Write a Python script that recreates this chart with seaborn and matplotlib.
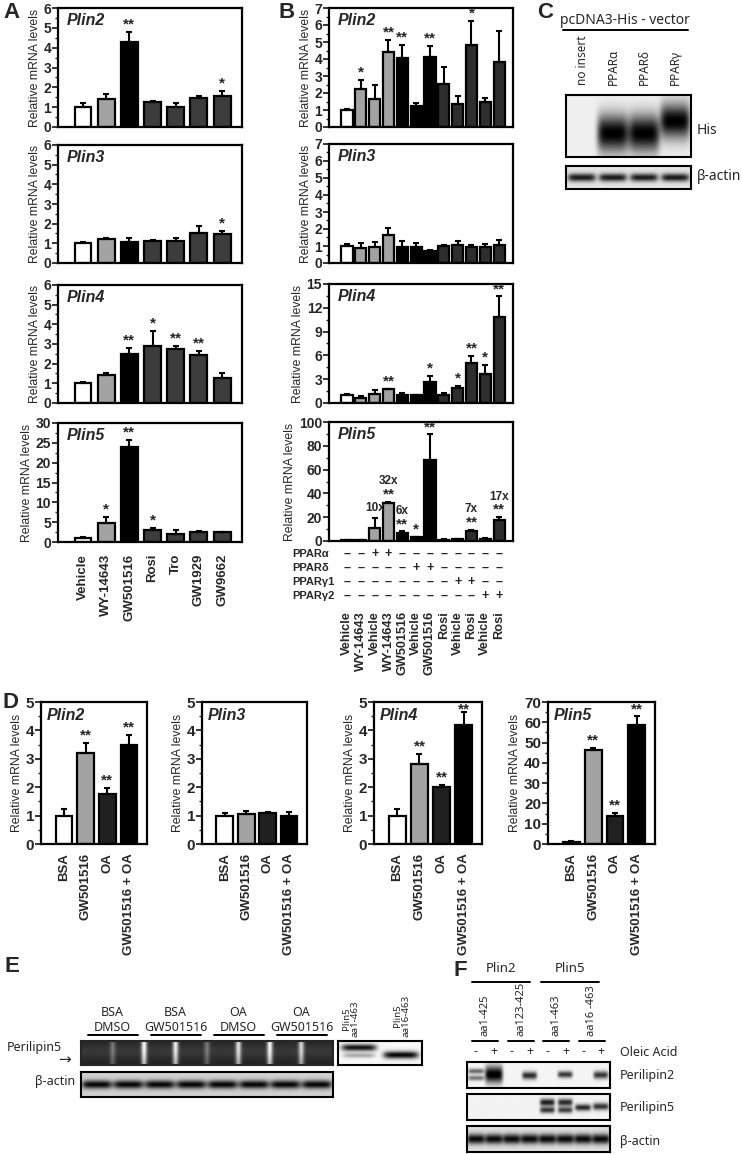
"""Perilipin mRNA levels after PPAR agonist treatment: bar charts and western blots"""

import matplotlib.pyplot as plt
import seaborn as sns
import numpy as np
from matplotlib.ticker import MultipleLocator, AutoMinorLocator
from matplotlib.transforms import blended_transform_factory

# ---------------- data ----------------
# panel A
a_labels = ['Vehicle', 'WY-14643', 'GW501516', 'Rosi', 'Tro', 'GW1929', 'GW9662']
a_plin2 = [1.0, 1.4, 4.3, 1.25, 1.0, 1.45, 1.55]
a_plin2_err = [0.2, 0.25, 0.5, 0.08, 0.2, 0.12, 0.25]
a_plin2_sig = ['', '', '**', '', '', '', '*']
a_plin3 = [1.0, 1.22, 1.05, 1.13, 1.1, 1.52, 1.48]
a_plin3_err = [0.07, 0.06, 0.2, 0.05, 0.15, 0.35, 0.13]
a_plin3_sig = ['', '', '', '', '', '', '*']
a_plin4 = [1.02, 1.42, 2.48, 2.9, 2.75, 2.42, 1.27]
a_plin4_err = [0.06, 0.1, 0.3, 0.75, 0.15, 0.22, 0.27]
a_plin4_sig = ['', '', '**', '*', '**', '**', '']
a_plin5 = [1.0, 4.8, 24.0, 3.0, 2.1, 2.5, 2.4]
a_plin5_err = [0.15, 1.4, 1.8, 0.6, 0.8, 0.3, 0.1]
a_plin5_sig = ['', '*', '**', '*', '', '', '']

# panel B
b_labels = ['Vehicle', 'WY-14643', 'Vehicle', 'WY-14643', 'GW501516', 'Vehicle',
            'GW501516', 'Rosi', 'Vehicle', 'Rosi', 'Vehicle', 'Rosi']
b_plin2 = [1.0, 2.25, 1.65, 4.4, 4.05, 1.25, 4.1, 2.55, 1.35, 4.85, 1.5, 3.8]
b_plin2_err = [0.08, 0.5, 0.85, 0.7, 0.8, 0.18, 0.65, 1.0, 0.45, 1.4, 0.22, 1.85]
b_plin2_sig = ['', '*', '', '**', '**', '', '**', '', '', '*', '', '']
b_plin3 = [1.0, 0.9, 0.95, 1.65, 0.92, 0.97, 0.68, 0.98, 1.08, 0.95, 0.95, 1.07]
b_plin3_err = [0.12, 0.25, 0.3, 0.4, 0.35, 0.18, 0.07, 0.05, 0.2, 0.12, 0.17, 0.3]
b_plin3_sig = [''] * 12
b_plin4 = [1.05, 0.65, 1.15, 1.75, 1.0, 0.95, 2.7, 0.95, 1.95, 5.1, 3.65, 10.85]
b_plin4_err = [0.1, 0.2, 0.45, 0.05, 0.2, 0.0, 0.75, 0.25, 0.25, 0.8, 1.2, 2.7]
b_plin4_sig = ['', '', '', '**', '', '', '*', '', '*', '**', '*', '**']
b_plin5 = [1.0, 1.0, 11.0, 32.0, 6.5, 3.0, 68.0, 1.2, 1.5, 8.5, 1.8, 17.5]
b_plin5_err = [0.2, 0.2, 8.5, 0.8, 1.5, 0.3, 22.0, 0.3, 0.4, 0.8, 0.5, 2.5]
b_plin5_sig = ['', '', '', '**', '**', '*', '**', '', '', '**', '', '**']
b_plin5_fold = ['', '', '10x', '32x', '6x', '', '', '', '', '7x', '', '17x']
ppar_rows = ['PPARα', 'PPARδ', 'PPARγ1', 'PPARγ2']
ppar_table = [
    '––++––––––––',
    '–––––++–––––',
    '––––––––++––',
    '––––––––––++',
]

# panel D
d_labels = ['BSA', 'GW501516', 'OA', 'GW501516 + OA']
d_plin2 = [1.0, 3.22, 1.75, 3.47]
d_plin2_err = [0.22, 0.35, 0.22, 0.37]
d_plin3 = [1.0, 1.05, 1.08, 0.98]
d_plin3_err = [0.08, 0.12, 0.06, 0.14]
d_plin4 = [1.0, 2.82, 2.0, 4.18]
d_plin4_err = [0.25, 0.35, 0.08, 0.48]
d_plin5 = [1.0, 46.5, 14.0, 58.5]
d_plin5_err = [0.5, 0.8, 1.5, 4.5]
d_sig = ['', '**', '**', '**']

# blots: (lane, y position from top 0-1, amplitude, band half-height, band half-width)
c_lanes = ['no insert', 'PPARα', 'PPARδ', 'PPARγ']
c_his_bands = [(1, 0.62, 0.95, 0.3, 0.5), (2, 0.62, 0.95, 0.3, 0.5),
               (3, 0.42, 0.95, 0.28, 0.48)]
c_actin_bands = [(i, 0.5, 0.8, 0.18, 0.45) for i in range(4)]

e_groups = ['BSA\nDMSO', 'BSA\nGW501516', 'OA\nDMSO', 'OA\nGW501516']
e_streak_pos = [1, 2, 3, 4, 5, 6, 7]
e_streak_amp = [0.3, 0.85, 0.8, 0.3, 0.75, 0.85, 0.7]
e_actin_bands = [(i, 0.5, 0.8, 0.17, 0.48) for i in range(8)]
e_ctrl_bands = [(0, 0.3, 0.9, 0.14, 0.42), (0, 0.62, 0.3, 0.1, 0.38),
                (1, 0.6, 0.95, 0.15, 0.42)]
e_ctrl_labels = ['Plin5\naa1-463', 'Plin5\naa16-463']

f_groups = ['Plin2', 'Plin5']
f_constructs = ['aa1-425', 'aa123-425', 'aa1-463', 'aa16 -463']
f_oleic = ['-', '+', '-', '+', '-', '+', '-', '+']
f_plin2_bands = [(0, 0.35, 0.55, 0.1, 0.45), (0, 0.62, 0.5, 0.1, 0.45),
                 (1, 0.48, 1.0, 0.33, 0.5), (3, 0.52, 0.8, 0.15, 0.42),
                 (5, 0.48, 0.75, 0.13, 0.42), (7, 0.5, 0.75, 0.15, 0.42)]
f_plin5_bands = [(4, 0.32, 0.85, 0.14, 0.42), (4, 0.62, 0.75, 0.12, 0.42),
                 (5, 0.32, 0.8, 0.14, 0.42), (5, 0.62, 0.7, 0.12, 0.42),
                 (6, 0.52, 0.8, 0.13, 0.45), (7, 0.48, 0.75, 0.14, 0.45)]
f_actin_bands = [(i, 0.5, 0.85, 0.2, 0.5) for i in range(8)]

# ---------------- style ----------------
sns.set_style('white')
plt.rcParams['font.family'] = ['Liberation Sans', 'DejaVu Sans']
W, H = 742, 1154
fig = plt.figure(figsize=(W / 100, H / 100), dpi=100)

WHITE, LIGHT, BLACK, DARK, DARKER = 'white', '#a3a3a3', '#000000', '#3c3c3c', '#2e2e2e'
a_colors = [WHITE, LIGHT, BLACK, DARK, DARK, DARK, DARK]
b_colors = [WHITE, LIGHT, LIGHT, LIGHT, BLACK, BLACK, BLACK] + [DARKER] * 5
d_colors = [WHITE, LIGHT, '#202020', BLACK]
BLOT_FONT = ['Noto Sans', 'DejaVu Sans']


def add_ax(x0, y0, x1, y1):
    return fig.add_axes([x0 / W, 1 - y1 / H, (x1 - x0) / W, (y1 - y0) / H])


def bar_panel(ax, vals, errs, colors, ymax, step, title, sig, width, xlim, hpx,
              labels=None, pad=4, ylabel=True, tick_size=10, xlab_size=9.5):
    idx = list(range(len(vals)))
    sns.barplot(x=idx, y=vals, hue=idx, palette=colors, legend=False, ax=ax,
                width=width, edgecolor='black', linewidth=1.6, saturation=1)
    ax.errorbar(idx, vals, yerr=[np.zeros(len(errs)), errs], fmt='none',
                ecolor='black', elinewidth=1.5, capsize=2.5, capthick=1.5, zorder=3)
    ax.set_xlim(*xlim)
    ax.set_ylim(0, ymax)
    ax.yaxis.set_major_locator(MultipleLocator(step))
    ax.yaxis.set_minor_locator(AutoMinorLocator(2))
    ax.tick_params(axis='y', which='major', direction='out', length=4, width=1.3,
                   labelsize=tick_size, pad=1, left=True)
    ax.tick_params(axis='y', which='minor', direction='out', length=2, width=1, left=True)
    for t in ax.get_yticklabels():
        t.set_fontweight('bold')
    for s in ax.spines.values():
        s.set_linewidth(1.6)
        s.set_color('black')
    ax.set_xlabel('')
    if ylabel:
        ax.set_ylabel('Relative mRNA levels', fontsize=8.8, labelpad=2)
    else:
        ax.set_ylabel('')
    ax.text(0.05, 0.96, title, transform=ax.transAxes, ha='left', va='top',
            fontsize=11.5, fontweight='bold', fontstyle='italic')
    off = 7.5 / hpx * ymax
    star_y = []
    for i, (v, e, s) in enumerate(zip(vals, errs, sig)):
        y = min(v + e + off, ymax * 0.95)
        star_y.append(y)
        if s:
            ax.text(i, y, s, ha='center', va='center', fontsize=11,
                    fontweight='bold', clip_on=False)
    if labels is None:
        ax.tick_params(axis='x', bottom=False, labelbottom=False)
    else:
        ax.set_xticks(idx)
        ax.set_xticklabels(labels, rotation=90, fontsize=xlab_size, fontweight='bold')
        ax.tick_params(axis='x', bottom=False, pad=pad)
    return star_y


def make_blot(ax, nlanes, bands, bg=0.95, hpx=60, wpx=300):
    ys = np.linspace(0, 1, hpx)[:, None]
    xs = np.linspace(0, nlanes, wpx)[None, :]
    img = np.full((hpx, wpx), bg)
    for lane, yc, amp, wy, wx in bands:
        prof = np.exp(-((xs - (lane + 0.5)) / wx) ** 6) * np.exp(-((ys - yc) / wy) ** 2)
        img = img - amp * prof
    img = np.clip(img, 0, 1)
    ax.imshow(img, cmap='gray', vmin=0, vmax=1, aspect='auto',
              extent=(0, nlanes, 1, 0), interpolation='bilinear')
    ax.set_xticks([])
    ax.set_yticks([])
    for s in ax.spines.values():
        s.set_linewidth(1.5)
        s.set_color('black')
    return img


def ftext(x, y, s, **kw):
    kw.setdefault('fontsize', 9)
    return fig.text(x / W, 1 - y / H, s, **kw)


def fline(x0, x1, y, lw=1.4):
    fig.add_artist(plt.Line2D([x0 / W, x1 / W], [1 - y / H, 1 - y / H],
                              color='black', linewidth=lw))


# ---------------- panel A ----------------
a_rows = [(8, 127), (145, 263), (285, 403), (423, 542)]
a_data = [(a_plin2, a_plin2_err, a_plin2_sig, 6, 1, 'Plin2'),
          (a_plin3, a_plin3_err, a_plin3_sig, 6, 1, 'Plin3'),
          (a_plin4, a_plin4_err, a_plin4_sig, 6, 1, 'Plin4'),
          (a_plin5, a_plin5_err, a_plin5_sig, 30, 5, 'Plin5')]
for k, ((y0, y1), (v, e, s, ym, st, t)) in enumerate(zip(a_rows, a_data)):
    ax = add_ax(58, y0, 242, y1)
    bar_panel(ax, v, e, a_colors, ym, st, t, s, 0.73, (-1.08, 6.86), y1 - y0,
              labels=a_labels if k == 3 else None, pad=5)

# ---------------- panel B ----------------
b_rows = [(8, 127), (144, 263), (284, 403), (422, 541)]
b_data = [(b_plin2, b_plin2_err, b_plin2_sig, 7, 1, 'Plin2'),
          (b_plin3, b_plin3_err, b_plin3_sig, 7, 1, 'Plin3'),
          (b_plin4, b_plin4_err, b_plin4_sig, 15, 3, 'Plin4'),
          (b_plin5, b_plin5_err, b_plin5_sig, 100, 20, 'Plin5')]
for k, ((y0, y1), (v, e, s, ym, st, t)) in enumerate(zip(b_rows, b_data)):
    ax = add_ax(329, y0, 513, y1)
    sy = bar_panel(ax, v, e, b_colors, ym, st, t, s, 0.8, (-1.3, 12.0), y1 - y0,
                   labels=b_labels if k == 3 else None, pad=47, xlab_size=9.2)
    if k == 3:
        per_px = ym / (y1 - y0)
        for i, fold in enumerate(b_plin5_fold):
            if fold:
                if b_plin5_sig[i]:
                    fy = sy[i] + 13 * per_px
                else:
                    fy = v[i] + e[i] + 10 * per_px
                ax.text(i, fy, fold, ha='center', va='center', fontsize=8.5,
                        fontweight='bold')
        tr = blended_transform_factory(ax.transData, fig.transFigure)
        for r, (name, row) in enumerate(zip(ppar_rows, ppar_table)):
            yy = 1 - (554 + 14 * r) / H
            fig.text(292 / W, yy, name, ha='left', va='center', fontsize=8,
                     fontweight='bold')
            for i, ch in enumerate(row):
                ax.text(i, yy, ch, transform=tr, ha='center', va='center',
                        fontsize=9, fontweight='bold', clip_on=False)

# ---------------- panel C ----------------
ax = add_ax(566, 95, 691, 157)
make_blot(ax, 4, c_his_bands, bg=0.94)
ax = add_ax(566, 166, 691, 189)
make_blot(ax, 4, c_actin_bands, bg=0.9)
ftext(625, 20, 'pcDNA3-His - vector', ha='center', va='center', fontsize=10,
      family=BLOT_FONT)
fline(563, 688, 30)
for i, lab in enumerate(c_lanes):
    ftext(582 + 31 * i, 85, lab, rotation=90, ha='center', va='bottom', fontsize=8.5,
          family=BLOT_FONT)
ftext(697, 130, 'His', ha='left', va='center', fontsize=10, family=BLOT_FONT)
ftext(697, 177, 'β-actin', ha='left', va='center', fontsize=10, family=BLOT_FONT)

# ---------------- panel D ----------------
d_cols = [(41, 147), (202, 307), (374, 482), (548, 655)]
d_data = [(d_plin2, d_plin2_err, d_sig, 5, 1, 'Plin2'),
          (d_plin3, d_plin3_err, [''] * 4, 5, 1, 'Plin3'),
          (d_plin4, d_plin4_err, d_sig, 5, 1, 'Plin4'),
          (d_plin5, d_plin5_err, d_sig, 70, 10, 'Plin5')]
for (x0, x1), (v, e, s, ym, st, t) in zip(d_cols, d_data):
    ax = add_ax(x0, 702, x1, 844)
    bar_panel(ax, v, e, d_colors, ym, st, t, s, 0.77, (-1.06, 3.83), 142,
              labels=d_labels, pad=3, tick_size=11)

# ---------------- panel E ----------------
ax = add_ax(81, 1041, 333, 1065)
xs = np.linspace(0, 8, 400)[None, :]
ys = np.linspace(0, 1, 40)[:, None]
dark = np.full((40, 400), 0.14) + 0.08 * np.exp(-((ys - 0.45) / 0.3) ** 2)
for p, a in zip(e_streak_pos, e_streak_amp):
    dark = dark + a * np.exp(-((xs - p) / 0.09) ** 2) * (1 - 0.3 * ys)
ax.imshow(np.clip(dark, 0, 1), cmap='gray', vmin=0, vmax=1, aspect='auto',
          extent=(0, 8, 1, 0), interpolation='bilinear')
ax.set_xticks([])
ax.set_yticks([])
for s in ax.spines.values():
    s.set_linewidth(1.5)
ax = add_ax(81, 1072, 333, 1097)
make_blot(ax, 8, e_actin_bands, bg=0.82)
ax = add_ax(338, 1041, 422, 1065)
make_blot(ax, 2, e_ctrl_bands, bg=0.97)
for i, g in enumerate(e_groups):
    cx = 81 + 252 * (0.125 + 0.25 * i)
    ftext(cx, 1020, g, ha='center', va='center', fontsize=9, family=BLOT_FONT,
          linespacing=1.25)
    fline(cx - 25, cx + 25, 1035)
for i, g in enumerate(e_ctrl_labels):
    ftext(351 + 51 * i, 1037, g, rotation=90, ha='center', va='bottom', fontsize=7,
          family=BLOT_FONT, linespacing=0.9)
ftext(7, 1047, 'Perilipin5', ha='left', va='center', fontsize=9, family=BLOT_FONT)
ftext(58, 1060, '→', ha='left', va='center', fontsize=11, family=['DejaVu Sans'])
ftext(75, 1082, 'β-actin', ha='right', va='center', fontsize=9, family=BLOT_FONT)

# ---------------- panel F ----------------
ax = add_ax(467, 1062, 610, 1088)
make_blot(ax, 8, f_plin2_bands, bg=0.96)
ax = add_ax(467, 1094, 610, 1120)
make_blot(ax, 8, f_plin5_bands, bg=0.95)
ax = add_ax(467, 1126, 610, 1152)
make_blot(ax, 8, f_actin_bands, bg=0.88)
for i, g in enumerate(f_groups):
    cx = 501 + 69 * i
    ftext(cx, 969, g, ha='center', va='center', fontsize=9.5, family=BLOT_FONT)
    fline(cx - 29, cx + 29, 982)
for i, c in enumerate(f_constructs):
    cx = 485 + 35.5 * i
    ftext(cx, 1036, c, rotation=90, ha='center', va='bottom', fontsize=8,
          family=BLOT_FONT)
    fline(cx - 13, cx + 13, 1041)
for i, o in enumerate(f_oleic):
    ftext(476 + 17.9 * i, 1052, o, ha='center', va='center', fontsize=9,
          fontweight='bold', family=BLOT_FONT)
ftext(620, 1052, 'Oleic Acid', ha='left', va='center', fontsize=9, family=BLOT_FONT)
ftext(620, 1075, 'Perilipin2', ha='left', va='center', fontsize=9, family=BLOT_FONT)
ftext(620, 1108, 'Perilipin5', ha='left', va='center', fontsize=9, family=BLOT_FONT)
ftext(620, 1141, 'β-actin', ha='left', va='center', fontsize=9, family=BLOT_FONT)

# ---------------- panel letters ----------------
for lx, ly, letter in [(3, 13, 'A'), (279, 13, 'B'), (537, 13, 'C'),
                       (3, 702, 'D'), (4, 966, 'E'), (453, 970, 'F')]:
    ftext(lx, ly, letter, ha='left', va='center', fontsize=16, fontweight='bold')

fig.savefig('out.png', dpi=100)
